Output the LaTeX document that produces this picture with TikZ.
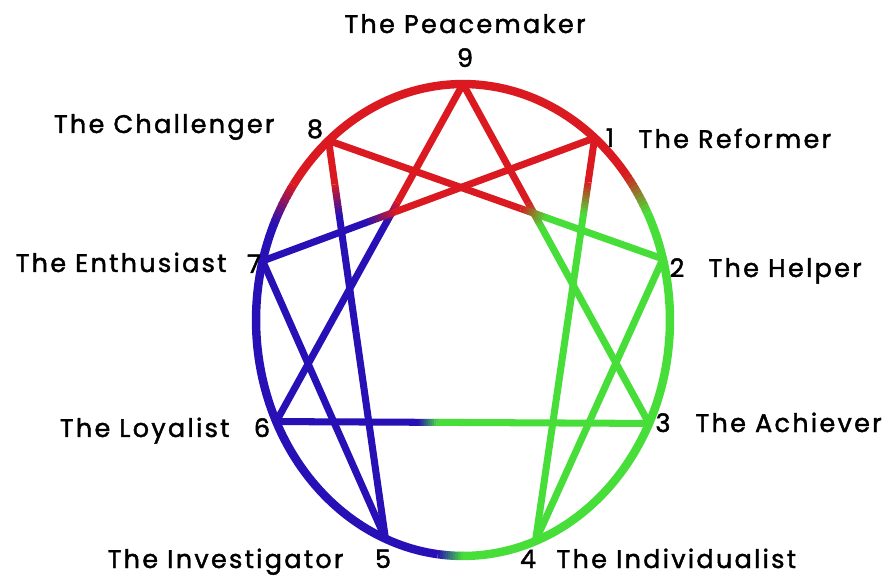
\documentclass[tikz,border=0pt]{standalone}
\usepackage{fontspec}
\setmainfont{Poppins}[LetterSpace=9,FakeBold=1.6]
\usetikzlibrary{calc}

\definecolor{ennred}{RGB}{218,26,32}
\definecolor{ennblue}{RGB}{38,16,182}
\definecolor{enngreen}{RGB}{72,222,58}
% straight line #1--#2, colour #3 turning into #4 between fractions #5 and #6
\newcommand{\gradline}[6]{%
  \draw[#3] (#1) -- ($(#1)!#5!(#2)$);
  \foreach \k in {0,...,9}{
    \pgfmathsetmacro{\tA}{#5+(#6-#5)*\k/10}
    \pgfmathsetmacro{\tB}{#5+(#6-#5)*(\k+1.2)/10}
    \pgfmathtruncatemacro{\mix}{95-10*\k}
    \draw[#3!\mix!#4] ($(#1)!\tA!(#2)$) -- ($(#1)!\tB!(#2)$);
  }
  \draw[#4] ($(#1)!#6!(#2)$) -- (#2);
}
% piece of the rim, colour #1 turning into #2 between angles #3 and #4
\newcommand{\gradarc}[4]{%
  \foreach \k in {0,...,9}{
    \pgfmathsetmacro{\angA}{#3+(#4-#3)*\k/10}
    \pgfmathsetmacro{\angB}{#3+(#4-#3)*(\k+1.2)/10}
    \pgfmathtruncatemacro{\mix}{95-10*\k}
    \draw[rim,#1!\mix!#2] (c) ++(\angA:4.14cm and 4.72cm)
      arc[start angle=\angA, end angle=\angB];
  }
}
\tikzset{
  rim/.style={line width=4.8pt,x radius=4.14cm,y radius=4.72cm},
  num/.style={inner sep=0pt},
  lab/.style={inner sep=0pt}
}

\begin{document}
\begin{tikzpicture}[x=0.02cm,y=0.02cm,line width=4pt]
\fontsize{14.5}{17}\selectfont
\useasboundingbox (0,0) rectangle (893,582);
\coordinate (c) at (463,262);
\coordinate (p9) at ($(c)+(90:4.14cm and 4.72cm)$);
\coordinate (p1) at ($(c)+(50.5:4.14cm and 4.72cm)$);
\coordinate (p2) at ($(c)+(15:4.14cm and 4.72cm)$);
\coordinate (p3) at ($(c)+(-26:4.14cm and 4.72cm)$);
\coordinate (p4) at ($(c)+(-69.5:4.14cm and 4.72cm)$);
\coordinate (p5) at ($(c)+(248:4.14cm and 4.72cm)$);
\coordinate (p6) at ($(c)+(205.5:4.14cm and 4.72cm)$);
\coordinate (p7) at ($(c)+(165.5:4.14cm and 4.72cm)$);
\coordinate (p8) at ($(c)+(130.5:4.14cm and 4.72cm)$);

% the rim
\draw[rim,ennred] (c) ++(38:4.14cm and 4.72cm) arc[start angle=38,end angle=145];
\gradarc{ennred}{ennblue}{145}{156}
\draw[rim,ennblue] (c) ++(156:4.14cm and 4.72cm) arc[start angle=156,end angle=263];
\gradarc{ennblue}{enngreen}{263}{270}
\draw[rim,enngreen] (c) ++(-90:4.14cm and 4.72cm) arc[start angle=-90,end angle=27];
\gradarc{enngreen}{ennred}{27}{38}

% triangle 9-3-6
\gradline{p9}{p3}{ennred}{enngreen}{0.35}{0.42}
\gradline{p9}{p6}{ennred}{ennblue}{0.35}{0.41}
\gradline{p6}{p3}{ennblue}{enngreen}{0.38}{0.435}
% hexad 1-4-2-8-5-7-1
\gradline{p1}{p4}{ennred}{enngreen}{0.11}{0.19}
\draw[enngreen] (p4) -- (p2);
\gradline{p8}{p2}{ennred}{enngreen}{0.575}{0.65}
\gradline{p8}{p5}{ennred}{ennblue}{0.11}{0.19}
\draw[ennblue] (p5) -- (p7);
\gradline{p1}{p7}{ennred}{ennblue}{0.6}{0.69}

% numbers and names
\node[num,anchor=base] (n9) at (465,515) {9};
\node[lab,anchor=base] (l9) at (465,549) {The Peacemaker};
\node[num,anchor=base] (n8) at (315,444) {8};
\node[lab,anchor=base east] (l8) at (278,449) {The Challenger};
\node[num,anchor=base] (n1) at (610,435) {1};
\node[lab,anchor=base west] (l1) at (635,434) {The Reformer};
\node[num,anchor=base] (n2) at (677,305) {2};
\node[lab,anchor=base west] (l2) at (705,305) {The Helper};
\node[num,anchor=base] (n3) at (663,150) {3};
\node[lab,anchor=base west] (l3) at (692,150) {The Achiever};
\node[num,anchor=base] (n4) at (528,14) {4};
\node[lab,anchor=base west] (l4) at (553,14) {The Individualist};
\node[num,anchor=base] (n5) at (383,14) {5};
\node[lab,anchor=base east] (l5) at (347,14) {The Investigator};
\node[num,anchor=base] (n6) at (262,145) {6};
\node[lab,anchor=base east] (l6) at (233,145) {The Loyalist};
\node[num,anchor=base] (n7) at (254,309) {7};
\node[lab,anchor=base east] (l7) at (230,310) {The Enthusiast};
\end{tikzpicture}
\end{document}
